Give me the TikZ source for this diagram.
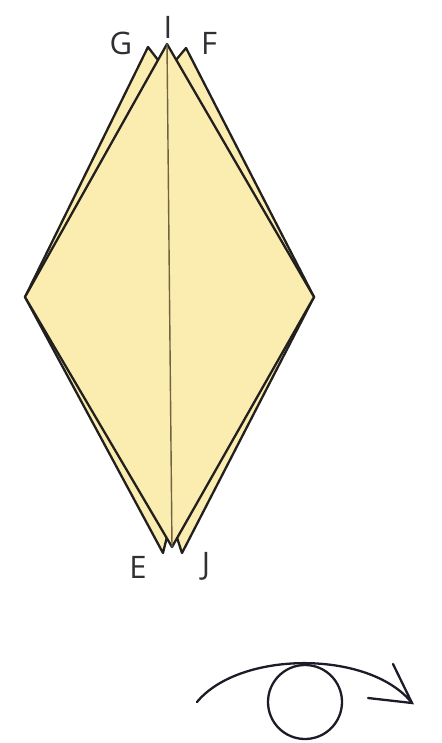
\documentclass[tikz,border=0pt]{standalone}
\usepackage{fontspec}
\setmainfont{Open Sans}
\begin{document}
\begin{tikzpicture}[x=1pt,y=-1pt,
  paper/.style={fill=paperfill,draw=edgeink,line width=2.3pt,line join=round},
  crease/.style={draw=creaseink,line width=1.4pt},
  letter/.style={text=labelink,font=\fontsize{31}{31}\selectfont,inner sep=0pt},
  eye/.style={draw=eyeink,line width=2.3pt,line cap=round}]
\definecolor{paperfill}{RGB}{251,236,176}
\definecolor{edgeink}{RGB}{34,32,30}
\definecolor{creaseink}{RGB}{112,98,66}
\definecolor{labelink}{RGB}{48,48,52}
\definecolor{eyeink}{RGB}{30,26,40}
\useasboundingbox (0,0) rectangle (441,743);

% corners of the folded base
\coordinate (T) at (167,44);
\coordinate (L) at (25,297);
\coordinate (R) at (314,297);
\coordinate (C) at (172,547);
% back flaps: tips, bottoms and where they slip under the front layer
\coordinate (P1) at (148,47);
\coordinate (V1) at (158,60);
\coordinate (B1) at (163,553);
\coordinate (W1) at (166.7,538);
\coordinate (P2) at (186,48);
\coordinate (V2) at (176,60);
\coordinate (B2) at (182,553);
\coordinate (W2) at (177.1,538);

% back flaps
\path[paper] (L) -- (P1) -- (V1) -- (168,300) -- (W1) -- (B1) -- cycle;
\path[paper] (R) -- (P2) -- (V2) -- (170,300) -- (W2) -- (B2) -- cycle;
% front layer
\path[paper] (T) -- (L) -- (C) -- (R) -- cycle;
% centre crease
\draw[crease] (T) -- (C);

% point labels
\node[letter] (I) at (168,27) {I};
\node[letter] (G) at (121,43) {G};
\node[letter] (F) at (209,43) {F};
\node[letter] (E) at (138,567) {E};
\node[letter] (J) at (206,566) {J};

% turn-over symbol
\node[draw=eyeink,line width=2.3pt,circle,minimum size=74pt,inner sep=0pt] (ball) at (305,702) {};
\coordinate (arcstart) at (197,702);
\coordinate (tip) at (412,703);
\coordinate (barbA) at (393,664);
\coordinate (barbB) at (368,698);
\draw[eye] (arcstart) .. controls (240,650) and (370,650) .. (tip);
\draw[eye,line join=miter] (barbA) -- (tip) -- (barbB);
\end{tikzpicture}
\end{document}
